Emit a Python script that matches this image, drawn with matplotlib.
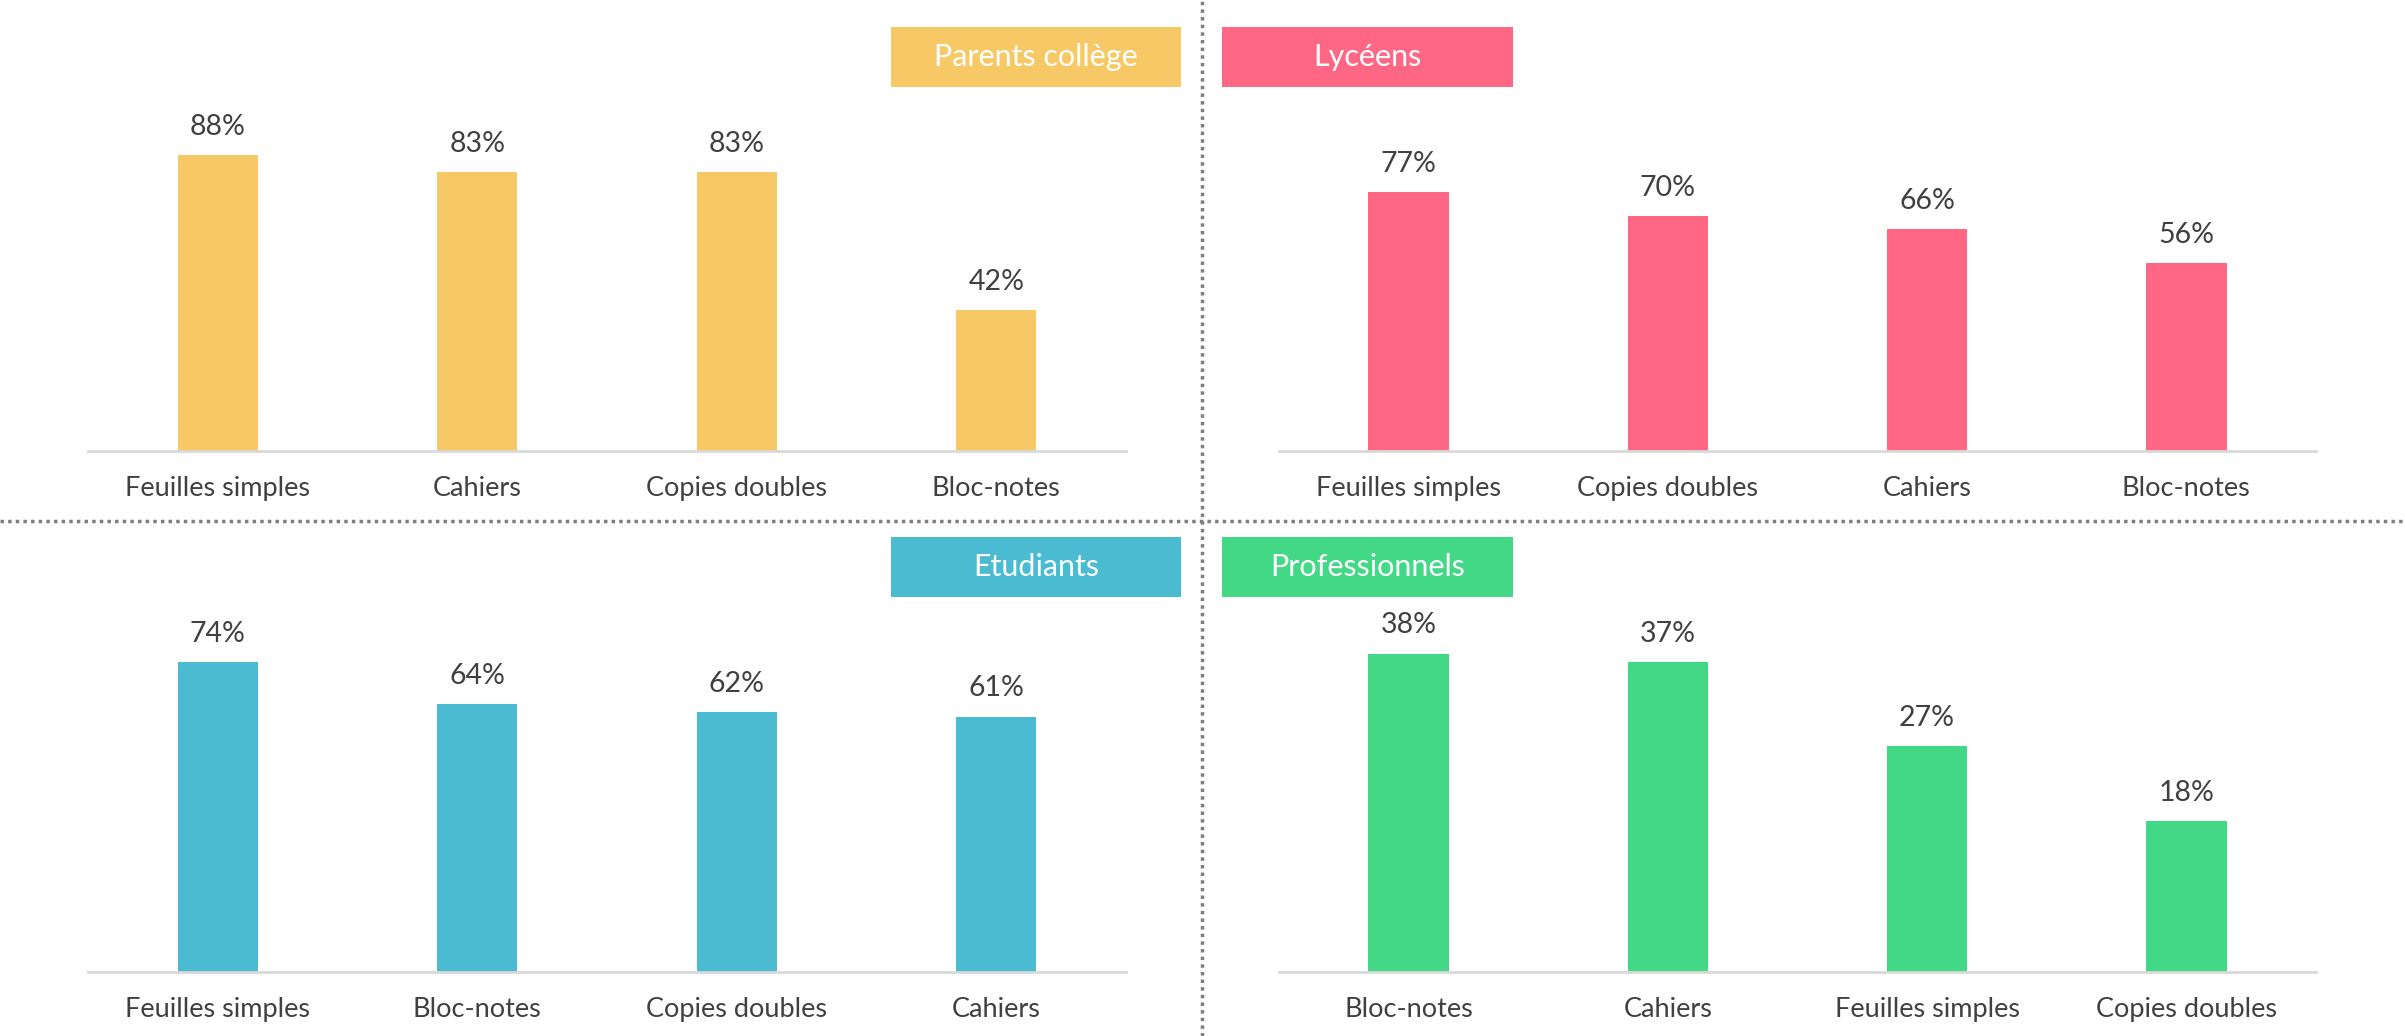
import matplotlib.pyplot as plt
from matplotlib.patches import Rectangle
from matplotlib.lines import Line2D

# données (en %)
parents_cats = ['Feuilles simples', 'Cahiers', 'Copies doubles', 'Bloc-notes']
parents_vals = [88, 83, 83, 42]

lyceens_cats = ['Feuilles simples', 'Copies doubles', 'Cahiers', 'Bloc-notes']
lyceens_vals = [77, 70, 66, 56]

etudiants_cats = ['Feuilles simples', 'Bloc-notes', 'Copies doubles', 'Cahiers']
etudiants_vals = [74, 64, 62, 61]

pros_cats = ['Bloc-notes', 'Cahiers', 'Feuilles simples', 'Copies doubles']
pros_vals = [38, 37, 27, 18]

titles = ['Parents collège', 'Lycéens', 'Etudiants', 'Professionnels']
colors = ['#F7C966', '#FF6784', '#4ABBD0', '#43D886']
ymax = [100, 100, 80, 40]

plt.rcParams['font.family'] = ['Lato', 'DejaVu Sans']
text_color = '#404040'

W, H = 2405, 1036
fig = plt.figure(figsize=(W / 100, H / 100), dpi=100)

# positions des axes en pixels (gauche, haut, droite, bas)
axes_px = [(88, 115, 1126, 451), (1279, 115, 2316, 451),
           (88, 637, 1126, 972), (1279, 637, 2316, 972)]
# boites de titre (gauche, haut, droite, bas)
boxes_px = [(891, 27, 1181, 87), (1222, 27, 1513, 87),
            (891, 537, 1181, 597), (1222, 537, 1513, 597)]

panels = [(parents_cats, parents_vals), (lyceens_cats, lyceens_vals),
          (etudiants_cats, etudiants_vals), (pros_cats, pros_vals)]

for k, (cats, vals) in enumerate(panels):
    l, t, r, b = axes_px[k]
    ax = fig.add_axes([l / W, 1 - b / H, (r - l) / W, (b - t) / H])
    x = range(len(cats))
    ax.bar(x, vals, width=0.31, color=colors[k], zorder=2)
    for xi, v in zip(x, vals):
        ax.annotate(f'{v}%', (xi, v), xytext=(0, 11), textcoords='offset points',
                    ha='center', va='bottom', fontsize=20.5, color=text_color)
    ax.set_xlim(-0.5, len(cats) - 0.5)
    ax.set_ylim(0, ymax[k])
    ax.set_xticks(list(x))
    ax.set_xticklabels(cats, fontsize=19.5, color=text_color)
    ax.tick_params(axis='x', length=0, pad=18)
    ax.set_yticks([])
    for s in ['top', 'right', 'left']:
        ax.spines[s].set_visible(False)
    ax.spines['bottom'].set_color('#D9D9D9')
    ax.spines['bottom'].set_linewidth(2)
    ax.patch.set_alpha(0)

    bl, bt, br, bb = boxes_px[k]
    fig.patches.append(Rectangle((bl / W, 1 - bb / H), (br - bl) / W, (bb - bt) / H,
                                 transform=fig.transFigure, facecolor=colors[k],
                                 edgecolor='none', zorder=1))
    fig.text((bl + br) / 2 / W, 1 - (bt + bb) / 2 / H, titles[k], color='white',
             fontsize=22, ha='center', va='center')

# séparateurs pointillés
fig.add_artist(Line2D([1202 / W, 1202 / W], [0, 1], color='#7F7F7F', lw=2.5,
                      linestyle=(0, (1, 1.2)), transform=fig.transFigure))
fig.add_artist(Line2D([0, 1], [1 - 521 / H, 1 - 521 / H], color='#7F7F7F', lw=2.5,
                      linestyle=(0, (1, 1.2)), transform=fig.transFigure))

plt.savefig('out.png', dpi=100)
